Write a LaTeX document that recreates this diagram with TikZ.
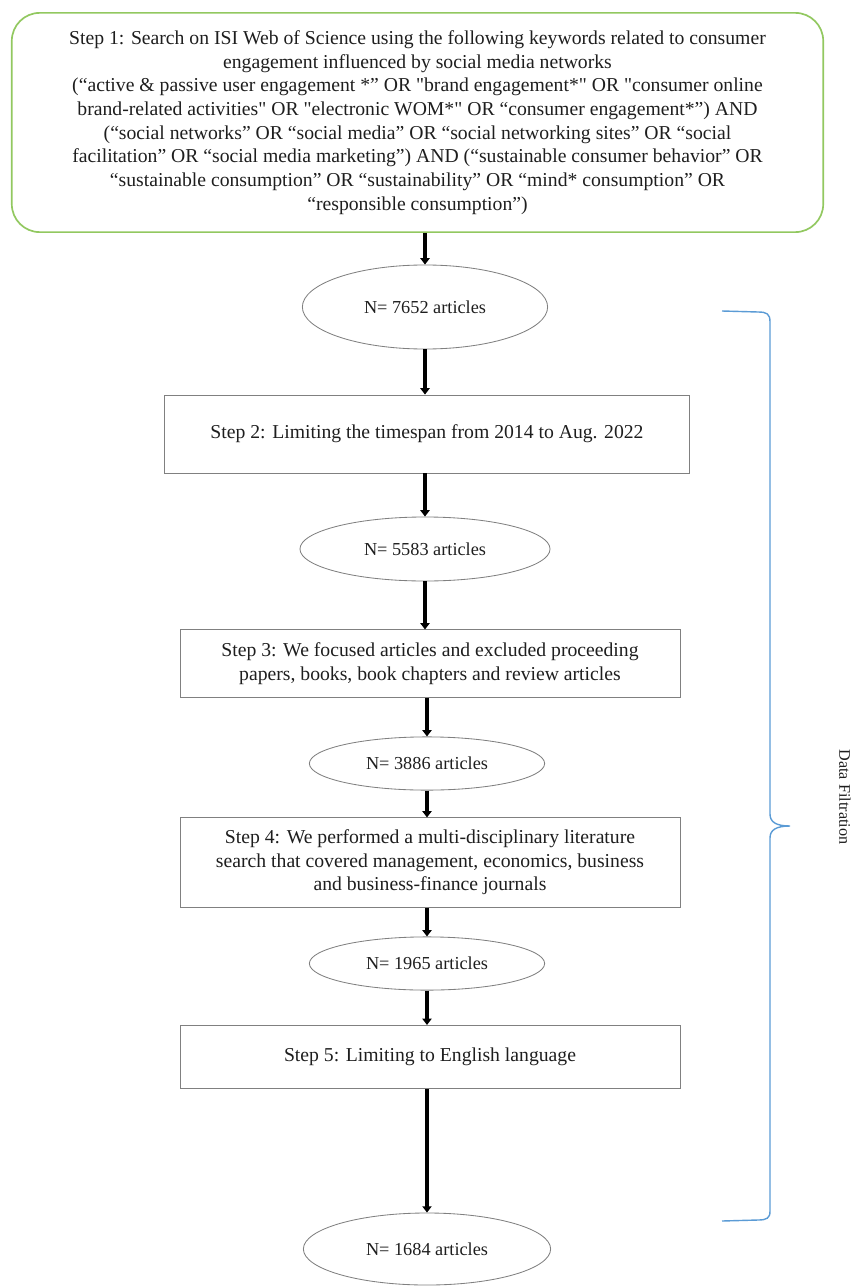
\documentclass[tikz,border=0pt]{standalone}
\usepackage{fontspec}
\setmainfont{Liberation Serif}
\usetikzlibrary{arrows.meta, shapes.geometric}
\definecolor{textDark}{RGB}{30,30,30}
\definecolor{stepLine}{RGB}{128,128,128}
\definecolor{searchLine}{RGB}{146,200,96}
\definecolor{braceLine}{RGB}{91,155,213}
\newcommand{\dq}{\textquotedbl}

\begin{document}
\begin{tikzpicture}[
  x=0.025cm, y=-0.025cm,
  font=\fontsize{14}{16.8}\selectfont, text=textDark,
  search/.style={draw=searchLine, line width=1.2pt, rounded corners=0.7cm, align=center, minimum width=20.28cm, minimum height=5.48cm, inner sep=0pt},
  stepbox/.style={draw=stepLine, line width=0.6pt, align=center, minimum width=12.5cm, inner sep=0pt},
  count/.style={ellipse, draw=stepLine, line width=0.6pt, inner sep=0pt, font=\fontsize{13}{15}\selectfont},
  arr/.style={-{Triangle[width=6.5pt,length=4.5pt]}, line width=2.6pt, draw=black},
  brace/.style={draw=braceLine, line width=1pt}
]
\useasboundingbox (0,0) rectangle (860,1286);

% Search step
\node[search] (step1) at (417.5,122.5) {Step 1: Search on ISI Web of Science using the following keywords related to consumer\\
engagement influenced by social media networks\\
(“active \& passive user engagement *” OR \dq brand engagement*\dq{} OR \dq consumer online\\
brand-related activities\dq{} OR \dq electronic WOM*\dq{} OR “consumer engagement*”) AND\\
(“social networks” OR “social media” OR “social networking sites” OR “social\\
facilitation” OR “social media marketing”) AND (“sustainable consumer behavior” OR\\
“sustainable consumption” OR “sustainability” OR “mind* consumption” OR\\
“responsible consumption”)};

\node[count, minimum width=6.13cm, minimum height=2.1cm] (n1) at (425,307) {N= 7652 articles};
\draw[arr] (n1 |- step1.south) -- (n1.north);

% Filtration steps
\node[stepbox, minimum width=13.13cm, minimum height=1.95cm] (step2) at (427,434) {Step 2: Limiting the timespan from 2014 to Aug. 2022};
\node[count, minimum width=6.25cm, minimum height=1.6cm] (n2) at (425,549) {N= 5583 articles};
\node[stepbox, minimum height=1.68cm] (step3) at (430,663.5) {Step 3: We focused articles and excluded proceeding\\papers, books, book chapters and review articles};
\node[count, minimum width=5.88cm, minimum height=1.33cm] (n3) at (427,763.5) {N= 3886 articles};
\node[stepbox, minimum height=2.23cm] (step4) at (430,862.5) {Step 4: We performed a multi-disciplinary literature\\search that covered management, economics, business\\and business-finance journals};
\node[count, minimum width=5.88cm, minimum height=1.33cm] (n4) at (427,963.5) {N= 1965 articles};
\node[stepbox, minimum height=1.58cm] (step5) at (430,1057) {Step 5: Limiting to English language};
\node[count, minimum width=6.18cm, minimum height=1.8cm] (n5) at (427,1249) {N= 1684 articles};

\draw[arr] (n1.south) -- (n1.south |- step2.north);
\draw[arr] (n2 |- step2.south) -- (n2.north);
\draw[arr] (n2.south) -- (n2.south |- step3.north);
\draw[arr] (n3 |- step3.south) -- (n3.north);
\draw[arr] (n3.south) -- (n3.south |- step4.north);
\draw[arr] (n4 |- step4.south) -- (n4.north);
\draw[arr] (n4.south) -- (n4.south |- step5.north);
\draw[arr] (n5 |- step5.south) -- (n5.north);

% Brace
\draw[brace] (722,311) -- (758,312) .. controls (767,312) and (770,314) .. (770,322)
  -- (770,814) .. controls (770,822) and (776,826) .. (790,826)
  .. controls (776,826) and (770,830) .. (770,838)
  -- (770,1211) .. controls (770,1218) and (767,1220) .. (758,1220) -- (722,1221);
\node[rotate=-90, font=\fontsize{11.5}{13}\selectfont] (filt) at (845,797) {Data Filtration};

\end{tikzpicture}
\end{document}
